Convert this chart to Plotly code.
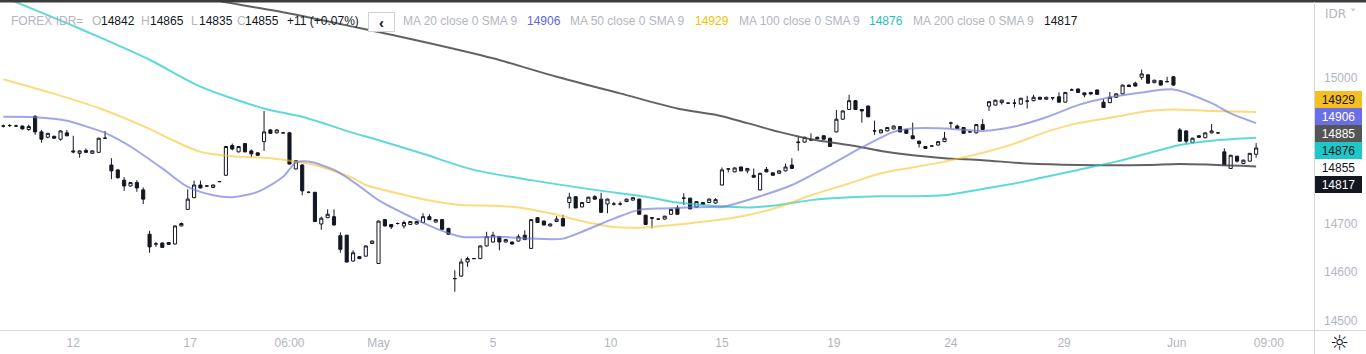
import plotly.graph_objects as go

# ---------------- data ----------------
opens = [14900,14901,14900,14900,14893,14920,14888,14877,14879,14873,
         14886,14849,14844,14850,14844,14846,14875,14820,14810,14789,
         14777,14784,14769,14678,14658,14660,14657,14658,14695,14729,
         14753,14779,14777,14774,14786,14799,14860,14847,14864,14849,
         14845,14868,14892,14886,14886,14886,14812,14820,14764,14764,
         14699,14712,14714,14675,14676,14623,14632,14633,14659,14618,
         14708,14698,14700,14695,14698,14699,14702,14714,14703,14708,
         14690,14587,14592,14621,14628,14628,14654,14662,14673,14662,
         14662,14664,14676,14649,14712,14705,14695,14704,14710,14743,
         14755,14734,14743,14755,14750,14740,14740,14740,14745,14748,
         14750,14717,14712,14709,14709,14719,14732,14752,14752,14734,
         14743,14743,14742,14779,14812,14806,14816,14808,14799,14769,
         14811,14804,14803,14808,14820,14866,14867,14871,14877,14880,
         14875,14888,14914,14934,14952,14934,14941,14890,14886,14890,
         14894,14899,14893,14880,14869,14858,14859,14861,14868,14906,
         14900,14897,14888,14886,14903,14941,14943,14948,14947,14947,
         14945,14951,14952,14959,14955,14958,14960,14949,14974,14976,
         14968,14969,14974,14949,14948,14959,14966,14984,14988,15000,
         15005,14989,14993,14991,15001,14892,14890,14866,14880,14876,
         14886,14886,14847,14813,14838,14823,14828,14842]
highs = [14903,14904,14903,14901,14903,14922,14892,14886,14880,14891,
         14892,14880,14850,14854,14850,14876,14890,14834,14812,14795,
         14785,14789,14774,14685,14662,14661,14662,14696,14702,14770,
         14788,14788,14779,14780,14787,14859,14864,14859,14865,14852,
         14846,14931,14894,14893,14887,14888,14830,14822,14766,14765,
         14714,14729,14729,14682,14677,14645,14633,14655,14665,14706,
         14709,14699,14702,14706,14705,14705,14721,14719,14709,14709,
         14691,14604,14628,14632,14629,14655,14683,14683,14674,14668,
         14663,14678,14686,14709,14713,14706,14700,14715,14718,14763,
         14756,14744,14755,14758,14763,14751,14744,14745,14751,14754,
         14751,14718,14713,14710,14716,14730,14737,14762,14753,14746,
         14744,14751,14752,14815,14813,14815,14817,14814,14813,14804,
         14816,14805,14809,14823,14834,14880,14878,14885,14878,14881,
         14876,14933,14932,14964,14953,14935,14942,14911,14893,14898,
         14901,14900,14894,14907,14870,14859,14860,14869,14888,14909,
         14903,14898,14889,14904,14914,14951,14954,14954,14948,14955,
         14958,14962,14964,14960,14960,14959,14969,14970,14977,14977,
         14969,14970,14975,14955,14970,14967,14985,14985,14991,15016,
         15006,14995,14994,15001,15002,14896,14891,14876,14881,14887,
         14904,14887,14854,14841,14839,14831,14844,14865]
lows = [14897,14898,14898,14893,14890,14882,14866,14875,14874,14870,
        14879,14844,14835,14845,14843,14845,14874,14791,14792,14767,
        14776,14765,14740,14640,14652,14650,14656,14657,14694,14728,
        14752,14772,14776,14773,14785,14798,14850,14846,14846,14836,
        14839,14849,14884,14885,14885,14821,14811,14758,14762,14703,
        14687,14711,14696,14640,14620,14622,14627,14632,14658,14617,
        14694,14689,14698,14690,14697,14698,14701,14707,14702,14687,
        14677,14560,14591,14611,14627,14627,14653,14661,14645,14661,
        14656,14663,14666,14648,14701,14696,14694,14703,14694,14731,
        14731,14733,14742,14749,14722,14721,14737,14737,14744,14747,
        14718,14697,14690,14708,14708,14718,14718,14738,14729,14733,
        14738,14742,14741,14778,14805,14805,14807,14803,14794,14768,
        14805,14798,14802,14807,14812,14849,14866,14870,14873,14872,
        14857,14887,14913,14933,14933,14907,14918,14882,14885,14889,
        14893,14887,14884,14873,14856,14853,14858,14860,14867,14895,
        14894,14884,14887,14885,14892,14931,14942,14944,14946,14938,
        14944,14936,14951,14954,14954,14953,14948,14948,14973,14968,
        14959,14963,14964,14937,14947,14958,14965,14980,14981,14995,
        14987,14988,14983,14990,14983,14868,14864,14865,14876,14875,
        14885,14885,14819,14812,14825,14822,14827,14835]
closes = [14900,14901,14900,14894,14899,14888,14873,14885,14875,14890,
          14880,14847,14849,14846,14849,14875,14875,14808,14794,14777,
          14784,14773,14750,14652,14658,14651,14661,14695,14700,14750,
          14779,14773,14777,14779,14786,14858,14853,14858,14847,14843,
          14840,14888,14885,14892,14886,14822,14829,14767,14764,14704,
          14711,14719,14697,14647,14621,14640,14628,14654,14664,14705,
          14695,14693,14700,14702,14704,14704,14714,14708,14708,14688,
          14678,14587,14621,14628,14628,14654,14673,14676,14662,14667,
          14658,14673,14667,14708,14702,14697,14699,14709,14695,14754,
          14732,14743,14754,14750,14723,14750,14740,14740,14750,14753,
          14719,14698,14711,14709,14715,14729,14719,14752,14730,14745,
          14739,14750,14749,14810,14812,14814,14808,14813,14795,14803,
          14806,14799,14808,14816,14813,14867,14877,14872,14874,14873,
          14858,14914,14931,14952,14934,14931,14919,14890,14892,14897,
          14900,14888,14885,14874,14864,14854,14859,14868,14875,14906,
          14895,14885,14888,14903,14893,14950,14953,14953,14947,14947,
          14957,14951,14959,14955,14959,14958,14949,14969,14974,14969,
          14964,14966,14965,14938,14959,14966,14984,14981,14982,15007,
          14988,14994,14984,14991,14984,14869,14869,14875,14877,14886,
          14890,14886,14820,14840,14828,14830,14844,14855]

tick_positions = [11, 29.4, 45, 59, 77, 95.5, 113, 130.6, 149, 166.8, 184.5, 199]
tick_labels = ["12", "17", "06:00", "May", "5", "10", "15", "19", "24", "29", "Jun", "09:00"]
y_ticks = [14500, 14600, 14700, 15000]

ma20_idx = [0,5,10,14,16,20,25,29,33,36,40,44,46,48,52,55,59,64,68,72,
            78,83,88,91,96,100,104,111,113,119,124,130,135,140,143,148,154,159,164,169,
            174,179,184,190,193,197]
ma20_val = [14919,14918,14911,14895,14886,14858,14813,14775,14758,14754,
            14765,14796,14825,14827,14810,14786,14748,14714,14690,14673,
            14673,14669,14669,14683,14710,14728,14731,14734,14734,14756,
            14779,14820,14856,14888,14895,14895,14890,14899,14918,14943,
            14959,14969,14975,14947,14926,14906]
ma50_idx = [0,7,15,23,26,31,36,42,45,49,55,57,62,67,72,78,82,86,91,96,
            101,106,111,117,122,127,133,138,143,148,154,159,164,169,175,180,184,190,197]
ma50_val = [14996,14970,14937,14894,14875,14847,14838,14834,14829,14820,
            14793,14779,14762,14747,14738,14736,14731,14721,14705,14693,
            14692,14698,14705,14717,14734,14758,14782,14803,14815,14827,
            14845,14864,14888,14906,14919,14931,14934,14931,14929]
ma100_idx = [0,10,15,23,31,41,47,55,58,66,74,83,93,101,106,112,117,122,127,133,
             138,143,148,154,159,164,169,175,180,185,190,197]
ma100_val = [15165,15111,15083,15036,14981,14936,14919,14886,14875,14843,
             14810,14789,14769,14755,14743,14736,14733,14738,14748,14754,
             14756,14756,14758,14771,14782,14796,14810,14827,14844,14861,
             14870,14876]
ma200_idx = [23,33,45,56,66,77,87,97,106,112,117,122,127,133,138,143,148,154,161,169,
             180,185,197]
ma200_val = [15190,15159,15131,15101,15073,15039,15001,14967,14936,14923,
             14906,14888,14873,14861,14849,14840,14834,14830,14823,14820,
             14820,14822,14817]

last_marker = 14885  # dark grey axis label

# ---------------- figure ----------------
W, H = 1366, 354
ML, MR, MT, MB = 0, 52, 0, 24
PW, PH = W - ML - MR, H - MT - MB

def px(x):
    return (x - ML) / PW

def py(y):
    return 1 - (y - MT) / PH

GRAY_TXT = "#b2b5be"
BLACK = "#131722"
FONT = "Liberation Sans, Arial, sans-serif"

c_ma20 = "rgba(110,118,220,0.65)"
c_ma50 = "rgba(247,196,40,0.60)"
c_ma100 = "rgba(30,200,200,0.70)"
c_ma200 = "rgba(70,70,70,0.85)"

fig = go.Figure()
for idx, val, col in [(ma200_idx, ma200_val, c_ma200), (ma100_idx, ma100_val, c_ma100),
                      (ma50_idx, ma50_val, c_ma50), (ma20_idx, ma20_val, c_ma20)]:
    fig.add_trace(go.Scatter(x=idx, y=val, mode="lines",
                             line=dict(color=col, width=2, shape="spline", smoothing=0.8),
                             hoverinfo="skip", showlegend=False))

xs = list(range(len(opens)))
fig.add_trace(go.Candlestick(
    x=xs, open=opens, high=highs, low=lows, close=closes,
    increasing=dict(line=dict(color=BLACK, width=1), fillcolor="#ffffff"),
    decreasing=dict(line=dict(color=BLACK, width=1), fillcolor=BLACK),
    whiskerwidth=0, hoverinfo="skip", showlegend=False))

fig.update_layout(
    width=W, height=H, margin=dict(l=ML, r=MR, t=MT, b=MB),
    paper_bgcolor="#ffffff", plot_bgcolor="#ffffff",
    font=dict(family=FONT, size=12, color=BLACK),
    showlegend=False,
    xaxis=dict(range=[-0.52, 206.1], tickvals=tick_positions, ticktext=tick_labels,
               showgrid=False, zeroline=False, showline=False, ticks="",
               tickfont=dict(color=GRAY_TXT, size=12, family=FONT),
               rangeslider=dict(visible=False), fixedrange=True, ticklabelstandoff=4),
    yaxis=dict(range=[14481.5, 15158.6], side="right", tickvals=y_ticks,
               tickformat="d",
               showgrid=False, zeroline=False, showline=False, ticks="",
               tickfont=dict(color=GRAY_TXT, size=12, family=FONT),
               ticklabelstandoff=9, fixedrange=True),
)

shapes = [
    dict(type="rect", xref="paper", yref="paper", x0=px(0), x1=px(W), y0=py(2.5), y1=py(0),
         fillcolor="#3b3b3b", line=dict(width=0), layer="above"),
    dict(type="line", xref="paper", yref="paper", x0=px(0), x1=px(W), y0=py(330.5), y1=py(330.5),
         line=dict(color="#d6d6d6", width=1)),
    dict(type="line", xref="paper", yref="paper", x0=px(1314.5), x1=px(1314.5), y0=py(H), y1=py(2),
         line=dict(color="#d6d6d6", width=1)),
]
fig.update_layout(shapes=shapes)

ann = []
def text(t, x, y, color, size=12, anchor="left", family=FONT):
    ann.append(dict(text=t, x=px(x), y=py(y), xref="paper", yref="paper",
                    xanchor=anchor, yanchor="middle", showarrow=False,
                    font=dict(color=color, size=size, family=family)))

chg = closes[-1] - closes[-2]
pct = chg / closes[-2] * 100
text("FOREX IDR=", 9, 21, GRAY_TXT)
text("O", 90, 21, GRAY_TXT); text(str(opens[-1]), 99, 21, BLACK)
text("H", 139, 21, GRAY_TXT); text(str(highs[-1]), 148, 21, BLACK)
text("L", 189, 21, GRAY_TXT); text(str(lows[-1]), 197, 21, BLACK)
text("C", 235, 21, GRAY_TXT); text(str(closes[-1]), 243, 21, BLACK)
text(f"{chg:+d} ({pct:+.2f}%)", 285, 21, BLACK)
text("MA 20 close 0 SMA 9", 401, 21, GRAY_TXT); text(str(ma20_val[-1]), 525, 21, "#5c68d6")
text("MA 50 close 0 SMA 9", 568, 21, GRAY_TXT); text(str(ma50_val[-1]), 693, 21, "#f2c200")
text("MA 100 close 0 SMA 9", 737, 21, GRAY_TXT); text(str(ma100_val[-1]), 867, 21, "#1fbfbf")
text("MA 200 close 0 SMA 9", 911, 21, GRAY_TXT); text(str(ma200_val[-1]), 1042, 21, BLACK)

# collapse button
ann.append(dict(text="<b>‹</b>", x=px(381.5), y=py(22), xref="paper", yref="paper",
                xanchor="center", yanchor="middle", showarrow=False,
                width=25, height=18, bgcolor="#ffffff", bordercolor="#d0d3da",
                borderwidth=1, borderpad=0, font=dict(color=BLACK, size=15, family=FONT)))

text("IDR ˅", 1323, 14, GRAY_TXT, size=12, family="DejaVu Sans, sans-serif")
text("☼", 1339, 343, BLACK, size=21, anchor="center", family="DejaVu Sans, sans-serif")

# right-axis price labels (stacked)
label_vals = [ma50_val[-1], ma20_val[-1], last_marker, ma100_val[-1], closes[-1], ma200_val[-1]]
label_bg = ["#f7be22", "#6b6fe6", "#555555", "#1fc8c8", "#ffffff", BLACK]
label_fg = [BLACK, "#ffffff", "#ffffff", BLACK, BLACK, "#ffffff"]
for i, (v, bg, fg) in enumerate(zip(label_vals, label_bg, label_fg)):
    cy = 99 + 17.1 * i
    ann.append(dict(text=str(v), x=px(1314.5), y=py(cy), xref="paper", yref="paper",
                    xanchor="left", yanchor="middle", showarrow=False,
                    width=47, height=17, bgcolor=bg, borderpad=0, borderwidth=0,
                    align="center", font=dict(color=fg, size=12, family=FONT)))

fig.update_layout(annotations=ann)
fig.write_html("out.html", include_plotlyjs=True, config={"displayModeBar": False, "staticPlot": True})
